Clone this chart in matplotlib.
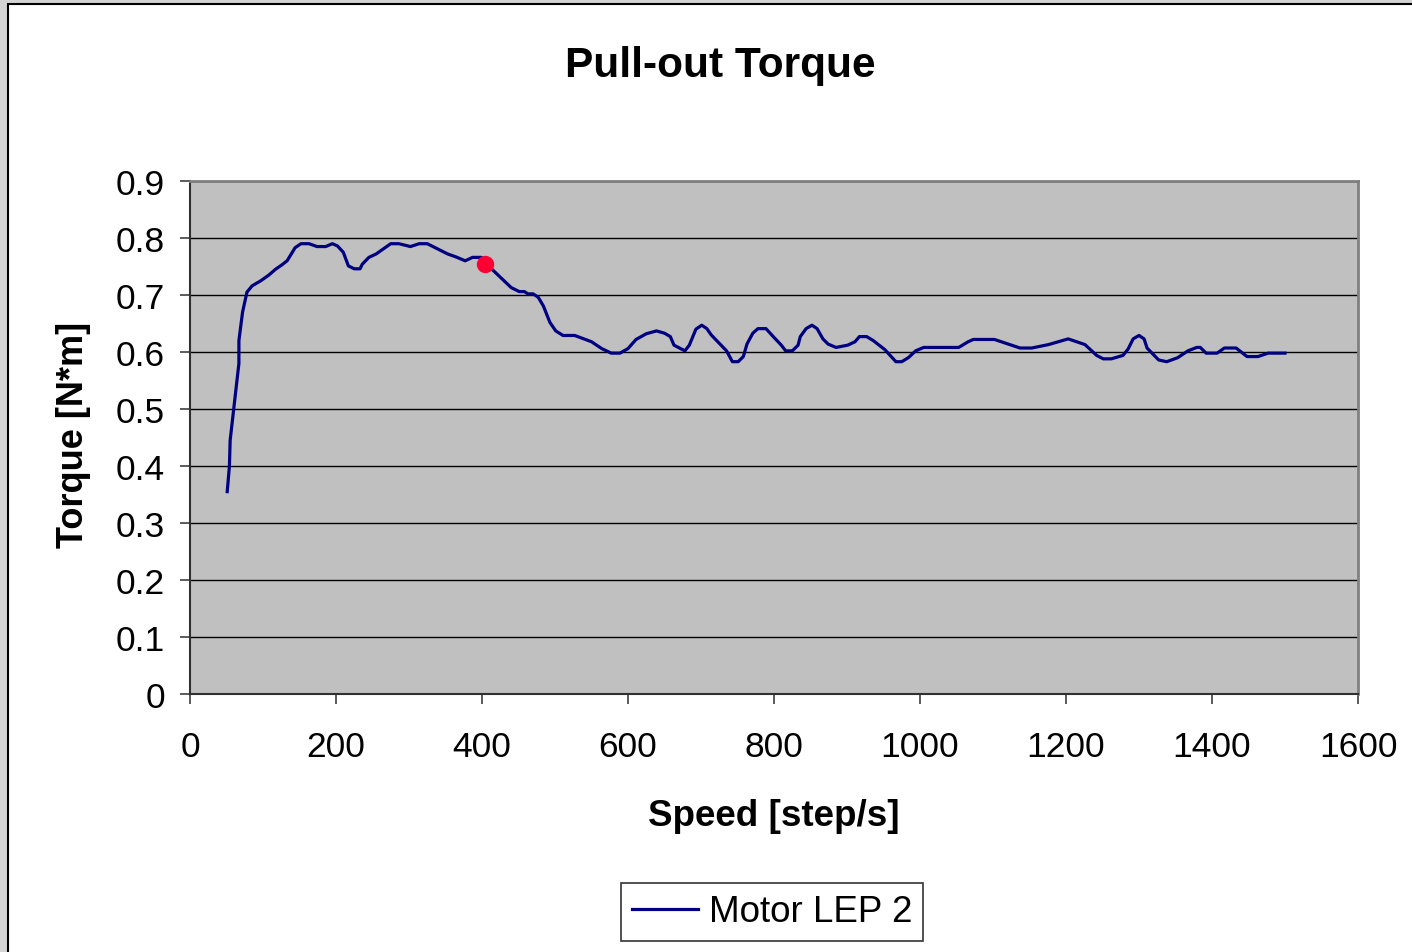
import matplotlib.pyplot as plt
from matplotlib.patches import Rectangle

plt.rcParams['font.family'] = ['Liberation Sans', 'DejaVu Sans']

# Velocidad [step/s] y par [N*m]
speed = [51, 54, 55, 67, 67, 72, 78, 85, 97, 108, 117, 126, 133, 144, 152, 163, 174,
         186, 195, 202, 210, 217, 225, 233, 236, 245, 255, 275, 286, 302, 314, 325,
         339, 353, 364, 377, 387, 399, 413, 427, 440, 451, 458, 463, 470, 477, 484,
         493, 501, 511, 527, 550, 564, 577, 589, 600, 611, 625, 639, 650, 658, 663,
         678, 684, 693, 701, 708, 714, 735, 743, 751, 758, 763, 771, 778, 789, 799,
         810, 816, 825, 833, 836, 844, 852, 859, 867, 874, 885, 901, 911, 917, 927,
         936, 952, 967, 975, 984, 994, 1005, 1053, 1066, 1073, 1102, 1137, 1153,
         1176, 1203, 1226, 1242, 1251, 1262, 1278, 1285, 1292, 1300, 1307, 1311,
         1327, 1338, 1353, 1367, 1379, 1384, 1392, 1407, 1417, 1433, 1448, 1463,
         1477, 1500]
torque = [0.355, 0.40, 0.445, 0.58, 0.62, 0.67, 0.705, 0.716, 0.725, 0.735, 0.745,
          0.753, 0.760, 0.783, 0.790, 0.790, 0.785, 0.785, 0.790, 0.786, 0.775,
          0.751, 0.746, 0.746, 0.754, 0.766, 0.772, 0.790, 0.790, 0.785, 0.790,
          0.790, 0.781, 0.772, 0.767, 0.760, 0.766, 0.766, 0.746, 0.729, 0.713,
          0.706, 0.706, 0.702, 0.702, 0.696, 0.681, 0.652, 0.637, 0.629, 0.629,
          0.618, 0.606, 0.598, 0.598, 0.606, 0.622, 0.632, 0.637, 0.633, 0.627,
          0.612, 0.602, 0.612, 0.640, 0.647, 0.641, 0.630, 0.602, 0.583, 0.583,
          0.592, 0.614, 0.633, 0.641, 0.641, 0.627, 0.612, 0.602, 0.602, 0.612,
          0.627, 0.641, 0.647, 0.641, 0.623, 0.614, 0.608, 0.612, 0.618, 0.627,
          0.627, 0.620, 0.604, 0.583, 0.583, 0.590, 0.602, 0.608, 0.608, 0.618,
          0.622, 0.622, 0.607, 0.607, 0.613, 0.623, 0.613, 0.594, 0.588, 0.588,
          0.594, 0.605, 0.623, 0.629, 0.623, 0.607, 0.586, 0.583, 0.590, 0.602,
          0.608, 0.608, 0.598, 0.598, 0.607, 0.607, 0.592, 0.592, 0.598, 0.598]

# Punto marcado en rojo
punto_x = [404]
punto_y = [0.755]

xticks = [0, 200, 400, 600, 800, 1000, 1200, 1400, 1600]
yticks = [0, 0.1, 0.2, 0.3, 0.4, 0.5, 0.6, 0.7, 0.8, 0.9]

fig = plt.figure(figsize=(14.12, 9.53), dpi=100, facecolor='#d4d4d4')
# Área del gráfico (borde negro)
fig.patches.append(Rectangle((8 / 1412, -0.1), 1.2, 1 - 5 / 953 + 0.1,
                             transform=fig.transFigure, facecolor='white',
                             edgecolor='black', linewidth=1.5, zorder=-10))

ax = fig.add_axes([190 / 1412, 1 - 695 / 953, 1168 / 1412, 513 / 953])
ax.set_facecolor('#c0c0c0')

ax.plot(speed, torque, color='#000080', linewidth=2.3, label='Motor LEP 2', zorder=3)
ax.plot(punto_x, punto_y, 'o', color='#ff0033', markersize=11.5, zorder=4)

ax.set_xlim(0, 1600)
ax.set_ylim(0, 0.9)
ax.set_xticks(xticks)
ax.set_yticks(yticks)
ax.set_xticklabels([str(v) for v in xticks])
ax.set_yticklabels(['0'] + ['%.1f' % v for v in yticks[1:]])
ax.tick_params(axis='both', labelsize=25.5, direction='out', length=7,
               width=1.2, color='#404040')
ax.tick_params(axis='x', pad=19)
ax.tick_params(axis='y', pad=11)

ax.grid(axis='y', color='black', linewidth=1.0)
ax.set_axisbelow(True)

for s in ['left', 'bottom']:
    ax.spines[s].set_color('#303030')
    ax.spines[s].set_linewidth(1.5)
for s in ['top', 'right']:
    ax.spines[s].set_color('#808080')
    ax.spines[s].set_linewidth(2)

ax.set_xlabel('Speed [step/s]', fontsize=26.5, fontweight='bold', va='center')
ax.xaxis.set_label_coords(0.5, -0.236)
ax.set_ylabel('Torque [N*m]', fontsize=26, fontweight='bold', va='center')
ax.yaxis.set_label_coords(-0.1, 0.507)

fig.text(720 / 1412, 1 - 66 / 953, 'Pull-out Torque', fontsize=30.5,
         fontweight='bold', ha='center', va='center')

leg = fig.legend(loc='center', bbox_to_anchor=(772 / 1412, 1 - 913 / 953),
                 fontsize=26.5, frameon=True, fancybox=False, handlelength=1.8,
                 handletextpad=0.3, borderpad=0.3, borderaxespad=0)
leg.get_frame().set_edgecolor('black')
leg.get_frame().set_linewidth(1.2)

plt.savefig('out.png', dpi=100, facecolor=fig.get_facecolor())
